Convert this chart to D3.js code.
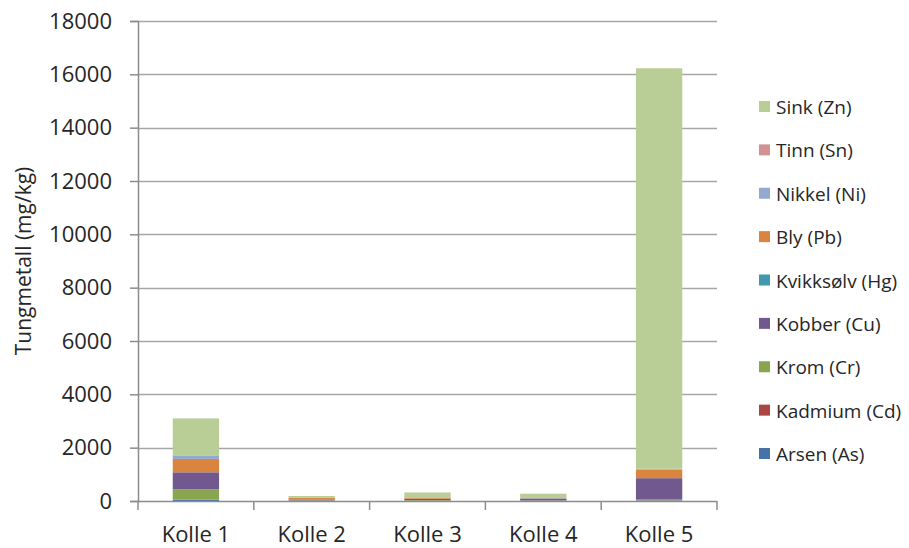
<!DOCTYPE html>
<html>
<head>
<meta charset="utf-8">
<script src="https://cdn.jsdelivr.net/npm/d3@7"></script>
<style>
  body { margin: 0; background: #fff; }
  text { font-family: "Open Sans", sans-serif; fill: #262626; }
</style>
</head>
<body>
<div id="chart"></div>
<script>
// sites on the x axis
const sites = ["Kolle 1", "Kolle 2", "Kolle 3", "Kolle 4", "Kolle 5"];

// metals, bottom of stack first
const metals = ["Arsen (As)", "Kadmium (Cd)", "Krom (Cr)", "Kobber (Cu)", "Kvikksølv (Hg)",
                "Bly (Pb)", "Nikkel (Ni)", "Tinn (Sn)", "Sink (Zn)"];

// mg/kg per metal, one value per site
const arsen     = [50, 5, 10, 5, 20];
const kadmium   = [5, 1, 5, 1, 5];
const krom      = [380, 15, 20, 15, 50];
const kobber    = [640, 20, 50, 70, 780];
const kvikksolv = [2, 0.5, 1, 0.5, 2];
const bly       = [500, 70, 40, 10, 320];
const nikkel    = [120, 5, 10, 10, 20];
const tinn      = [20, 2, 5, 2, 10];
const sink      = [1380, 70, 180, 160, 15020];

const yTicks = [0, 2000, 4000, 6000, 8000, 10000, 12000, 14000, 16000, 18000];

const seriesValues = [arsen, kadmium, krom, kobber, kvikksolv, bly, nikkel, tinn, sink];
const colors = ["#4572A7", "#AA4643", "#89A54E", "#71588F", "#4198AF",
                "#DB843D", "#93A9CF", "#D19392", "#B9CD96"];

// build rows for d3.stack
const rows = sites.map((s, i) => {
    const r = { site: s };
    metals.forEach((m, j) => { r[m] = seriesValues[j][i]; });
    return r;
});

const width = 909, height = 548;
const marginLeft = 138, marginTop = 21, plotW = 579, plotH = 480;

const svg = d3.select("#chart").append("svg")
    .attr("width", width)
    .attr("height", height);

const x = d3.scaleBand()
    .domain(sites)
    .range([marginLeft, marginLeft + plotW])
    .paddingInner(0.6)
    .paddingOuter(0.3);

const y = d3.scaleLinear()
    .domain([0, 18000])
    .range([marginTop + plotH, marginTop]);

const color = d3.scaleOrdinal().domain(metals).range(colors);

// gridlines
svg.append("g")
    .selectAll("line")
    .data(yTicks.slice(1))
    .join("line")
    .attr("x1", marginLeft)
    .attr("x2", marginLeft + plotW)
    .attr("y1", d => Math.round(y(d)) + 0.5)
    .attr("y2", d => Math.round(y(d)) + 0.5)
    .attr("stroke", "#a6a6a6")
    .attr("stroke-width", 1.5);

// stacked bars
const stacked = d3.stack().keys(metals)(rows);

svg.append("g")
    .selectAll("g")
    .data(stacked)
    .join("g")
    .attr("fill", d => color(d.key))
    .selectAll("rect")
    .data(d => d)
    .join("rect")
    .attr("x", d => x(d.data.site))
    .attr("width", x.bandwidth())
    .attr("y", d => y(d[1]))
    .attr("height", d => y(d[0]) - y(d[1]));

// y axis
const yAxis = svg.append("g")
    .attr("transform", `translate(${marginLeft},0)`)
    .call(d3.axisLeft(y).tickValues(yTicks).tickFormat(d3.format("d")).tickSize(8).tickPadding(18));
yAxis.select(".domain").attr("stroke", "#8c8c8c").attr("stroke-width", 1.5);
yAxis.selectAll(".tick line").attr("stroke", "#8c8c8c").attr("stroke-width", 1.5);
yAxis.selectAll(".tick text")
    .style("font-family", "Open Sans, sans-serif")
    .style("font-size", "22px")
    .attr("fill", "#262626");

// x axis (ticks at category boundaries)
const xAxisG = svg.append("g")
    .attr("transform", `translate(0,${marginTop + plotH})`);
xAxisG.append("line")
    .attr("x1", marginLeft).attr("x2", marginLeft + plotW)
    .attr("y1", 0.5).attr("y2", 0.5)
    .attr("stroke", "#8c8c8c").attr("stroke-width", 1.5);
const bounds = d3.range(sites.length + 1).map(i => marginLeft + i * plotW / sites.length);
xAxisG.selectAll(".bt")
    .data(bounds)
    .join("line")
    .attr("class", "bt")
    .attr("x1", d => d).attr("x2", d => d)
    .attr("y1", 0).attr("y2", 9)
    .attr("stroke", "#8c8c8c").attr("stroke-width", 1.5);
xAxisG.selectAll(".lbl")
    .data(sites)
    .join("text")
    .attr("class", "lbl")
    .attr("x", d => x(d) + x.bandwidth() / 2)
    .attr("y", 41)
    .attr("text-anchor", "middle")
    .style("font-size", "22px")
    .text(d => d);

// y axis title
svg.append("text")
    .attr("transform", `translate(31,${marginTop + plotH / 2}) rotate(-90)`)
    .attr("text-anchor", "middle")
    .style("font-size", "21px")
    .attr("fill", "#111")
    .text("Tungmetall (mg/kg)");

// legend, top item is last series
const legend = svg.append("g");
const legendItems = metals.slice().reverse();
const ly = d3.scalePoint().domain(legendItems).range([107, 454]);
const li = legend.selectAll("g")
    .data(legendItems)
    .join("g")
    .attr("transform", d => `translate(759,${ly(d)})`);
li.append("rect")
    .attr("x", 0).attr("y", -6)
    .attr("width", 11).attr("height", 11)
    .attr("fill", d => color(d));
li.append("text")
    .attr("x", 17)
    .attr("y", 7)
    .style("font-size", "19px")
    .text(d => d);
</script>
</body>
</html>
